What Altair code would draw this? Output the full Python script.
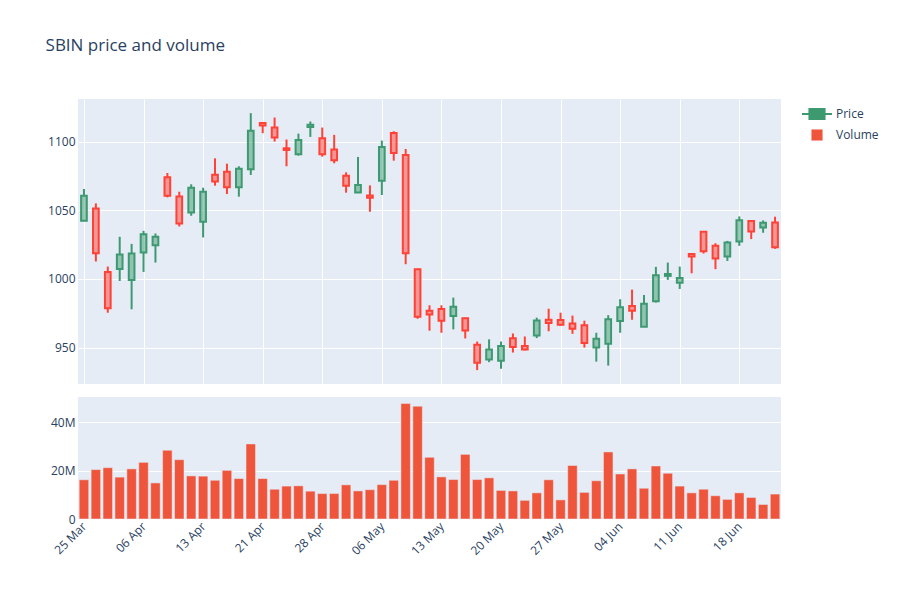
import json
import altair as alt
import pandas as pd

# ---------------- data ----------------
tick_labels = ["25 Mar", "06 Apr", "13 Apr", "21 Apr", "28 Apr", "06 May",
               "13 May", "20 May", "27 May", "04 Jun", "11 Jun", "18 Jun"]

open_ = [1042.3, 1051.3, 1005.1, 1007.3, 999.3, 1019.2, 1024.6, 1074.0, 1060.1, 1048.4,
         1041.6, 1075.9, 1078.1, 1066.7, 1079.8, 1113.6, 1110.2, 1095.1, 1090.8, 1110.7,
         1102.4, 1094.2, 1075.2, 1063.0, 1060.8, 1071.5, 1106.3, 1090.3, 1007.1, 976.9,
         978.1, 973.0, 971.3, 952.1, 941.4, 940.4, 956.9, 951.2, 958.9, 970.3,
         970.1, 967.6, 966.2, 950.1, 952.8, 969.3, 980.3, 965.2, 983.7, 1002.2,
         997.3, 1018.2, 1034.3, 1024.1, 1016.3, 1027.3, 1042.1, 1037.5, 1041.1]

high = [1065.5, 1055.0, 1009.0, 1030.7, 1025.5, 1035.0, 1033.1, 1077.1, 1063.5, 1068.9,
        1066.4, 1087.8, 1083.9, 1082.0, 1120.7, 1114.1, 1117.5, 1101.5, 1105.8, 1114.6,
        1110.2, 1104.9, 1077.6, 1088.8, 1068.1, 1100.7, 1107.5, 1094.6, 1007.5, 980.8,
        980.8, 986.4, 971.8, 954.4, 956.0, 954.4, 960.3, 958.1, 971.8, 978.3,
        975.4, 973.3, 969.6, 960.8, 973.6, 985.2, 992.2, 988.3, 1008.8, 1011.9,
        1009.0, 1018.5, 1034.5, 1026.0, 1027.7, 1045.5, 1042.5, 1042.6, 1045.3]

low = [1042.0, 1012.7, 975.4, 998.5, 977.9, 1005.1, 1011.9, 1059.4, 1038.2, 1046.0,
       1030.2, 1067.9, 1061.8, 1059.9, 1075.7, 1106.1, 1100.0, 1082.0, 1089.8, 1103.4,
       1089.0, 1084.2, 1062.8, 1062.8, 1048.9, 1061.1, 1086.1, 1010.7, 971.0, 962.3,
       960.8, 963.3, 956.7, 933.6, 939.4, 934.6, 946.4, 948.0, 956.9, 961.9,
       966.0, 960.0, 950.0, 939.8, 936.9, 960.8, 970.3, 965.0, 982.8, 999.3,
       992.7, 1004.1, 1018.5, 1007.1, 1013.1, 1024.1, 1029.0, 1033.6, 1021.9]

close = [1060.6, 1018.7, 978.6, 1017.8, 1018.5, 1032.6, 1030.7, 1060.6, 1040.4, 1066.4,
         1063.5, 1071.0, 1066.7, 1080.3, 1107.8, 1111.7, 1102.9, 1093.9, 1101.2, 1112.2,
         1090.8, 1086.4, 1067.9, 1068.4, 1059.1, 1096.1, 1091.7, 1018.7, 972.5, 974.1,
         969.6, 979.8, 962.5, 938.9, 948.7, 951.2, 950.5, 948.7, 969.8, 967.9,
         966.7, 963.7, 953.4, 956.4, 970.6, 979.3, 976.9, 982.0, 1002.7, 1003.6,
         1000.7, 1016.3, 1020.2, 1014.8, 1026.5, 1042.8, 1034.5, 1040.9, 1023.1]

volume_m = [16.2, 20.4, 21.2, 17.3, 20.7, 23.4, 14.9, 28.4, 24.5, 17.8,
            17.7, 16.0, 20.1, 16.7, 31.0, 16.7, 12.3, 13.6, 13.7, 11.5,
            10.5, 10.5, 14.1, 11.6, 12.1, 14.2, 16.0, 47.7, 46.6, 25.5,
            17.4, 16.3, 26.7, 16.3, 17.0, 11.8, 11.6, 7.7, 10.8, 16.2,
            7.9, 22.1, 11.0, 15.8, 27.7, 18.6, 20.7, 12.7, 21.9, 18.9,
            13.6, 10.8, 12.3, 9.6, 8.1, 10.8, 8.9, 6.0, 10.3]

series_names = ["Price", "Volume"]

# ---------------- table ----------------
n = len(close)
df = pd.DataFrame({
    "idx": list(range(n)),
    "open": open_, "high": high, "low": low, "close": close,
    "volume": [v * 1e6 for v in volume_m],
})

INC = "#3D9970"
DEC = "#FF4136"
VOL = "#EF553B"
TXT = "#2a3f5f"
FONT = "Open Sans"

tick_vals = [i * 5 for i in range(len(tick_labels))]
label_expr = f"{json.dumps(tick_labels)}[round(datum.value / 5)]"

x_scale = alt.Scale(domain=[-0.5, n - 0.5], nice=False, zero=False, padding=0)
y_scale = alt.Scale(domain=[923.5, 1131], nice=False, zero=False, padding=0)

x_top = alt.X("idx:Q", scale=x_scale,
              axis=alt.Axis(values=tick_vals, labels=False, ticks=False, domain=False,
                            title=None, grid=True))
y_axis = alt.Axis(values=[950, 1000, 1050, 1100], format="d", title=None, labelPadding=3)

is_up = "datum.close > datum.open"
stroke_c = alt.condition(is_up, alt.value(INC), alt.value(DEC))
fill_c = alt.condition(is_up, alt.value("rgba(61,153,112,0.5)"), alt.value("rgba(255,65,54,0.5)"))

base = alt.Chart(df).transform_calculate(
    body_lo="min(datum.open, datum.close)",
    body_hi="max(datum.open, datum.close)",
)

wick_low = base.mark_rule(strokeWidth=2).encode(
    x=x_top,
    y=alt.Y("low:Q", scale=y_scale, axis=y_axis),
    y2="body_lo:Q",
    color=stroke_c,
)
wick_high = base.mark_rule(strokeWidth=2).encode(
    x=x_top,
    y=alt.Y("body_hi:Q", scale=y_scale, axis=y_axis),
    y2="high:Q",
    color=stroke_c,
)
body = base.mark_bar(size=5.7, strokeWidth=2).encode(
    x=x_top,
    y=alt.Y("body_lo:Q", scale=y_scale, axis=y_axis),
    y2="body_hi:Q",
    fill=fill_c,
    stroke=stroke_c,
)

candle_path = ("M-1,-0.07H-0.57V0.07H-1Z M0.57,-0.07H1V0.07H0.57Z "
               "M-0.57,-0.4H0.57V0.4H-0.57Z")
square_path = "M-0.37,-0.37H0.37V0.37H-0.37Z"

legend_df = pd.DataFrame({"series": series_names})
legend_def = alt.Legend(
    title=None, orient="none", legendX=724, legendY=0,
    labelFont=FONT, labelFontSize=12, labelColor=TXT,
    symbolSize=900, rowPadding=-17, padding=0, labelOffset=4,
    symbolStrokeWidth=0,
)
legend_layer = alt.Chart(legend_df).mark_point(filled=True, opacity=1).encode(
    x=alt.X("idx:Q", scale=x_scale),
    y=alt.Y("pos:Q", scale=y_scale),
    color=alt.Color("series:N", scale=alt.Scale(domain=series_names, range=[INC, VOL]),
                    legend=legend_def),
    shape=alt.Shape("series:N", scale=alt.Scale(domain=series_names,
                                                range=[candle_path, square_path]),
                    legend=legend_def),
).transform_calculate(idx="0", pos="1000").transform_filter("false")

top = alt.layer(wick_low, wick_high, body, legend_layer).properties(width=703, height=285)

vol = alt.Chart(df).mark_bar(size=9.5, color=VOL, stroke="#E5ECF6", strokeWidth=0.5).encode(
    x=alt.X("idx:Q", scale=x_scale,
            axis=alt.Axis(values=tick_vals, labelExpr=label_expr, labelAngle=-45,
                          labelAlign="right", labelBaseline="middle", labelPadding=5,
                          grid=False, ticks=False, domain=False, title=None)),
    y=alt.Y("volume:Q", scale=alt.Scale(domain=[0, 50.4e6], nice=False, padding=0),
            axis=alt.Axis(values=[0, 20e6, 40e6], title=None, labelPadding=3,
                          labelExpr="datum.value == 0 ? '0' : format(datum.value, '~s')")),
).properties(width=703, height=122)

chart = alt.vconcat(top, vol, spacing=13).properties(
    title=alt.TitleParams("SBIN price and volume", anchor="start", font=FONT, fontSize=17,
                          color=TXT, fontWeight="normal", dx=-2, offset=44),
    padding={"left": 45, "top": 37, "right": 0, "bottom": 5},
    background="white",
).configure_view(fill="#E5ECF6", stroke=None).configure_axis(
    gridColor="white", gridWidth=1, labelFont=FONT, labelFontSize=12, labelColor=TXT,
    domain=False, ticks=False,
).configure_concat(spacing=13)

chart.save("out.html", embed_options={"renderer": "svg", "actions": False})
